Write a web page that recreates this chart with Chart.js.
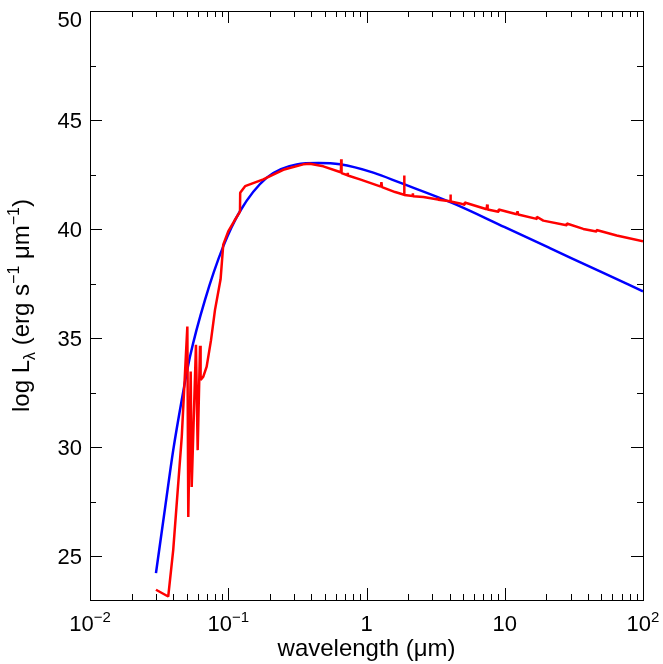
<!DOCTYPE html>
<html>
<head>
<meta charset="utf-8">
<script src="https://cdn.jsdelivr.net/npm/chart.js@4.4.1/dist/chart.umd.min.js"></script>
<style>
  html, body { margin: 0; padding: 0; background: #fff; }
  canvas { display: block; }
</style>
</head>
<body>
<canvas id="sedChart" width="663" height="664"></canvas>
<script>
// Blackbody-like fit (blue)
const blueWavelength = [0.030, 0.035, 0.040, 0.0461, 0.0529, 0.0679, 0.092, 0.1216, 0.19, 0.3126, 0.45, 0.643, 1.12, 1.746, 4.245, 10, 21.2, 48.9, 100];
const blueLogL = [24.23, 27.27, 29.87, 32.17, 34.16, 36.76, 39.21, 40.82, 42.36, 42.97, 43.03, 42.97, 42.59, 42.13, 41.18, 40.09, 39.13, 38.06, 37.15];

// Model spectrum (red)
const redWavelength = [0.0300, 0.0368, 0.0400, 0.0461, 0.0506, 0.0514, 0.0535, 0.0544, 0.0584, 0.0601,
    0.0625, 0.0631, 0.0660, 0.0698, 0.0750, 0.0802, 0.0880, 0.0920, 0.1000, 0.1100,
    0.1216, 0.1220, 0.1324, 0.1793, 0.2500, 0.3490, 0.3900, 0.4870, 0.6430, 0.6530,
    0.6563, 0.6600, 0.7300, 0.7320, 0.7340, 0.8970, 1.2700, 1.2818, 1.2950, 1.6100,
    1.8700, 1.8751, 1.8800, 2.1600, 2.1660, 2.1720, 2.5800, 3.2900, 3.3000, 3.3100,
    4.0300, 4.0512, 4.0700, 4.7500, 5.1200, 5.1300, 7.4000, 7.4600, 7.5200, 9.0000,
    9.0300, 12.200, 12.370, 12.500, 17.000, 17.050, 19.000, 28.000, 28.100, 37.000,
    46.000, 46.100, 64.500, 100.00];
const redLogL = [23.47, 23.16, 25.30, 30.48, 35.54, 26.81, 33.47, 28.18, 34.70, 29.87,
    34.65, 33.09, 33.24, 33.70, 34.90, 36.30, 37.70, 39.29, 39.90, 40.35,
    40.80, 41.67, 41.97, 42.28, 42.72, 42.97, 43.00, 42.88, 42.62, 42.60,
    43.20, 42.57, 42.47, 42.58, 42.46, 42.28, 41.95, 42.15, 41.93, 41.70,
    41.58, 42.46, 41.57, 41.52, 41.64, 41.51, 41.47, 41.36, 41.45, 41.35,
    41.28, 41.59, 41.27, 41.18, 41.12, 41.22, 40.91, 41.13, 40.90, 40.80,
    40.90, 40.68, 40.82, 40.67, 40.47, 40.57, 40.39, 40.18, 40.26, 40.01,
    39.89, 39.96, 39.71, 39.44];

// Axis ticks
const xTickValues = [0.01, 0.1, 1, 10, 100];
const xTickLabels = ['10^\u22122', '10^\u22121', '1', '10', '10^2'];
const yTickValues = [25, 30, 35, 40, 45, 50];
const yMinorValues = [27.5, 32.5, 37.5, 42.5, 47.5];

const FONT = '"Liberation Sans", Arial, Helvetica, sans-serif';
const TICK = 22;   // tick label size
const TITLE = 24;  // axis title size

function toPoints(xs, ys) {
    return xs.map((x, i) => ({ x: x, y: ys[i] }));
}

// draw a run of [text, kind] pieces, kind = 'n' | 'sup' | 'sub'
function pieceWidth(ctx, parts, size) {
    let w = 0;
    parts.forEach(p => {
        ctx.font = Math.round(p[1] === 'n' ? size : size * 0.68) + 'px ' + FONT;
        w += ctx.measureText(p[0]).width;
    });
    return w;
}

function drawPieces(ctx, parts, x, y, size) {
    let cx = x;
    parts.forEach(p => {
        ctx.font = Math.round(p[1] === 'n' ? size : size * 0.68) + 'px ' + FONT;
        let dy = 0;
        if (p[1] === 'sup') dy = -size * 0.42;
        if (p[1] === 'sub') dy = size * 0.24;
        ctx.fillText(p[0], cx, y + dy);
        cx += ctx.measureText(p[0]).width;
    });
}

const axesPlugin = {
    id: 'axesPlugin',
    afterDraw(chart) {
        const { ctx, chartArea: a, scales } = chart;
        const xs = scales.x, ys = scales.y;
        ctx.save();
        ctx.strokeStyle = '#000';
        ctx.lineWidth = 1;
        ctx.strokeRect(Math.round(a.left) + 0.5, Math.round(a.top) + 0.5,
            Math.round(a.right - a.left), Math.round(a.bottom - a.top));

        ctx.beginPath();
        // x ticks (bottom + top), major and minor
        for (let d = -2; d < 2; d++) {
            for (let m = 1; m < 10; m++) {
                const v = m * Math.pow(10, d);
                const px = Math.round(xs.getPixelForValue(v)) + 0.5;
                const len = m === 1 ? 12 : 6;
                ctx.moveTo(px, a.bottom); ctx.lineTo(px, a.bottom - len);
                ctx.moveTo(px, a.top); ctx.lineTo(px, a.top + len);
            }
        }
        // y ticks (left + right)
        yTickValues.forEach(v => {
            const py = Math.round(ys.getPixelForValue(v)) + 0.5;
            ctx.moveTo(a.left, py); ctx.lineTo(a.left + 12, py);
            ctx.moveTo(a.right, py); ctx.lineTo(a.right - 12, py);
        });
        yMinorValues.forEach(v => {
            const py = Math.round(ys.getPixelForValue(v)) + 0.5;
            ctx.moveTo(a.left, py); ctx.lineTo(a.left + 6, py);
            ctx.moveTo(a.right, py); ctx.lineTo(a.right - 6, py);
        });
        ctx.stroke();

        ctx.fillStyle = '#000';
        ctx.textBaseline = 'alphabetic';
        ctx.textAlign = 'left';

        // x tick labels
        xTickValues.forEach((v, i) => {
            const bits = xTickLabels[i].split('^');
            const parts = [[bits[0], 'n']];
            if (bits[1]) parts.push([bits[1], 'sup']);
            const w = pieceWidth(ctx, parts, TICK);
            drawPieces(ctx, parts, xs.getPixelForValue(v) - w / 2, a.bottom + 31, TICK);
        });

        // y tick labels
        ctx.font = TICK + 'px ' + FONT;
        ctx.textAlign = 'right';
        yTickValues.forEach(v => {
            const py = ys.getPixelForValue(v);
            ctx.fillText(String(v), a.left - 8, Math.max(py + 8, a.top + 16));
        });

        // x title
        ctx.font = TITLE + 'px ' + FONT;
        ctx.textAlign = 'center';
        ctx.fillText('wavelength (\u03bcm)', (a.left + a.right) / 2, a.bottom + 56);

        // y title
        ctx.textAlign = 'left';
        const yParts = [['log L', 'n'], ['\u03bb', 'sub'], [' (erg s', 'n'], ['\u22121', 'sup'],
            [' \u03bcm', 'n'], ['\u22121', 'sup'], [')', 'n']];
        const tw = pieceWidth(ctx, yParts, TITLE);
        ctx.translate(29, (a.top + a.bottom) / 2);
        ctx.rotate(-Math.PI / 2);
        drawPieces(ctx, yParts, -tw / 2, 0, TITLE);
        ctx.restore();
    }
};

const ctx = document.getElementById('sedChart').getContext('2d');
new Chart(ctx, {
    type: 'line',
    data: {
        datasets: [
            {
                label: 'model',
                data: toPoints(redWavelength, redLogL),
                borderColor: '#ff0000',
                borderWidth: 2.5,
                borderJoinStyle: 'bevel',
                pointRadius: 0,
                tension: 0,
                order: 0
            },
            {
                label: 'blackbody',
                data: toPoints(blueWavelength, blueLogL),
                borderColor: '#0000ff',
                borderWidth: 2.5,
                pointRadius: 0,
                cubicInterpolationMode: 'monotone',
                order: 1
            }
        ]
    },
    options: {
        responsive: false,
        animation: false,
        layout: { padding: { left: 90, right: 20, top: 11, bottom: 64 } },
        plugins: {
            legend: { display: false },
            tooltip: { enabled: false }
        },
        scales: {
            x: { type: 'logarithmic', min: 0.01, max: 100, display: false },
            y: { type: 'linear', min: 23, max: 50, display: false }
        }
    },
    plugins: [axesPlugin]
});
</script>
</body>
</html>
